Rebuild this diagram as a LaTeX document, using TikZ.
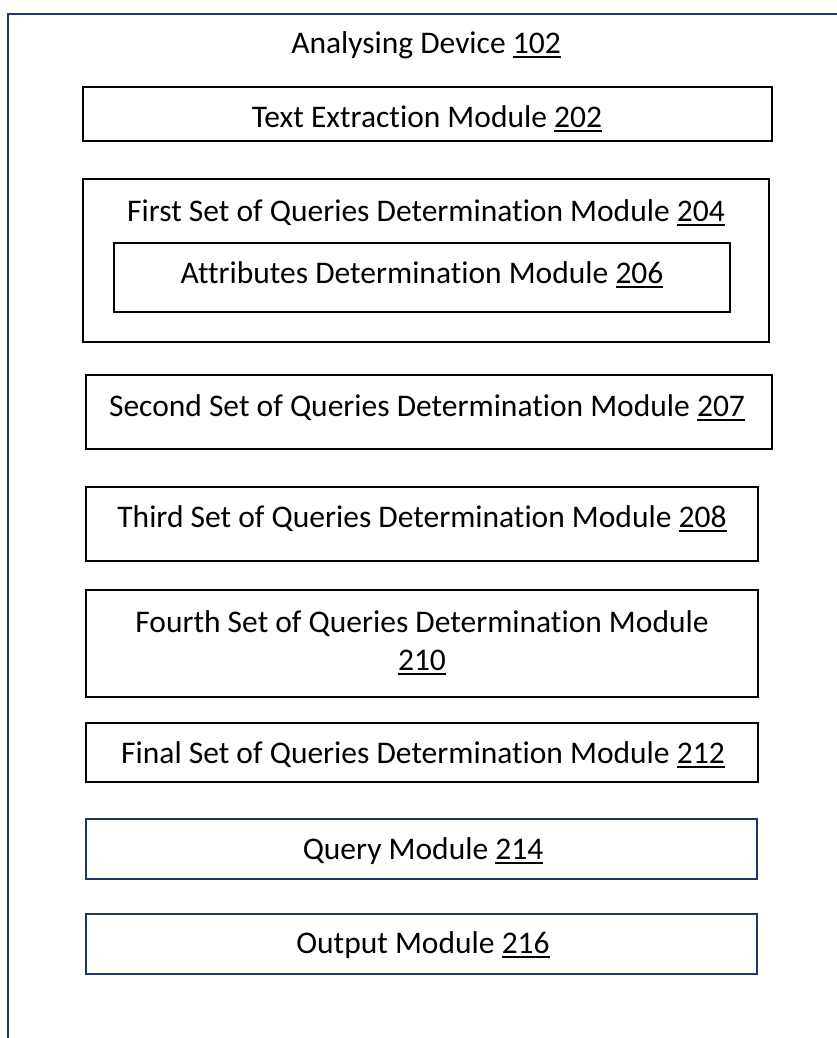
\documentclass[tikz,border=0pt]{standalone}
\usepackage{fontspec}
\setmainfont[Ligatures=NoCommon]{Carlito}
\definecolor{framenavy}{HTML}{203864}
\newcommand{\refnum}[1]{\setbox0\hbox{#1}\rlap{\rule[-4.5pt]{\wd0}{2pt}}\box0}
\tikzset{
  modbox/.style={draw=black,line width=2.2pt,inner sep=0pt},
  navybox/.style={draw=framenavy,line width=2.4pt,inner sep=0pt},
  modlabel/.style={anchor=base,inner sep=0pt,font=\fontsize{31.5}{38.5}\selectfont},
}
\begin{document}
\begin{tikzpicture}[x=1pt,y=-1pt,line join=miter,]
%%
\useasboundingbox (0,0) rectangle (836,1038);
\coordinate (frame_bl) at (8,1040);
\coordinate (frame_tl) at (8,14);
\coordinate (frame_tr) at (838,14);
\draw [framenavy,line width=2pt] (frame_bl) -- (frame_tl) -- (frame_tr);
%
\node (box_1) at (427.5,114) [modbox,minimum width=689pt,minimum height=54pt] {};
  \node (box_2) at (426,260.5) [modbox,minimum width=686pt,minimum height=163pt] {};
  \node (box_3) at (422,277.5) [modbox,minimum width=616pt,minimum height=69pt] {};
  \node (box_4) at (429,412) [modbox,minimum width=686pt,minimum height=74pt] {};
  \node (box_5) at (422,524) [modbox,minimum width=672pt,minimum height=74pt] {};
  \node (box_6) at (422,643.5) [modbox,minimum width=672pt,minimum height=107pt] {};
  \node (box_7) at (422,752.5) [modbox,minimum width=672pt,minimum height=59pt] {};
  \node (box_8) at (421.5,849) [navybox,minimum width=671pt,minimum height=60pt] {};
  \node (box_9) at (421.5,944) [navybox,minimum width=671pt,minimum height=60pt] {};
%
\node (label_0) at (426,54) [modlabel] {Analysing Device \refnum{102}};
  \node (label_1) at (427,128) [modlabel] {Text Extraction Module \refnum{202}};
  \node (label_2) at (426,221) [modlabel] {First Set of Queries Determination Module \refnum{204}};
  \node (label_3) at (422,283) [modlabel] {Attributes Determination Module \refnum{206}};
  \node (label_4) at (427,416) [modlabel] {Second Set of Queries Determination Module \refnum{207}};
  \node (label_5) at (422,527) [modlabel] {Third Set of Queries Determination Module \refnum{208}};
  \node (label_6) at (422,632) [modlabel] {Fourth Set of Queries Determination Module};
  \node (label_6b) at (422,670) [modlabel] {\refnum{210}};
  \node (label_7) at (423,763) [modlabel] {Final Set of Queries Determination Module \refnum{212}};
  \node (label_8) at (423,859) [modlabel] {Query Module \refnum{214}};
  \node (label_9) at (423,953) [modlabel] {Output Module \refnum{216}};
%
\end{tikzpicture}
\end{document}
